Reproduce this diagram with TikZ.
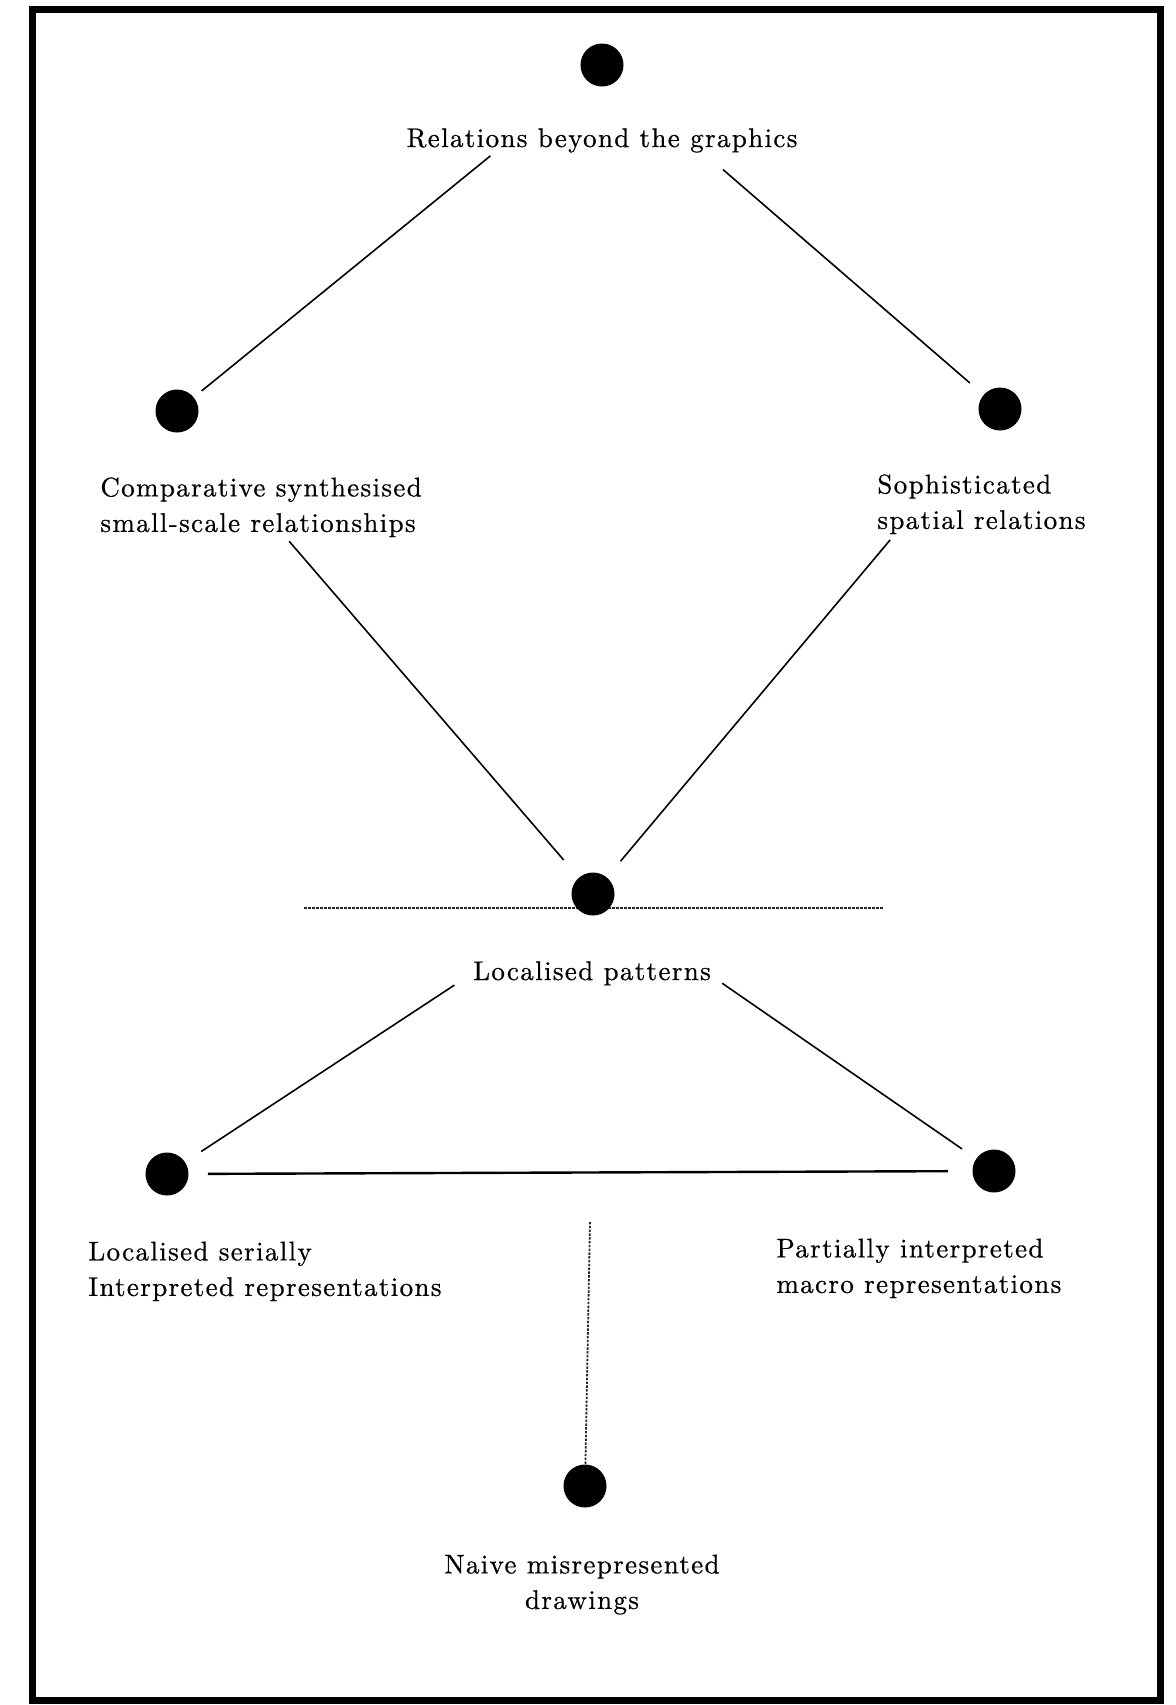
\documentclass[tikz,border=0pt]{standalone}
\usepackage{fontspec}
% Letter-spaced, slightly emboldened Latin Modern for the labels
\newfontfamily\lbfont{lmroman10-regular}[Extension=.otf, LetterSpace=5.0, FakeBold=0.6]
\newcommand\lblstrut{\rule{0pt}{10pt}}
\begin{document}
\begin{tikzpicture}[x=0.5pt,y=-0.5pt,
  dot/.style={circle,fill=black,inner sep=0pt,minimum size=21.5pt},
  link/.style={line width=0.8pt,black},
  baseline link/.style={line width=1.2pt,black},
  hguide/.style={line width=1.3pt,black!85,dash pattern=on 1.5pt off 0.5pt},
  vguide/.style={line width=0.9pt,black!85,dash pattern=on 1.2pt off 0.7pt},
  lbl/.style={font=\lbfont\fontsize{13.5}{17.75}\selectfont,inner sep=0pt,text=black}]

\useasboundingbox (0,0) rectangle (1175,1705);
\fill[white] (0,0) rectangle (1175,1705);

% outer frame
\draw[line width=3.5pt] (32,9) rectangle (1160,1700);

% free ends of the dotted guides
\coordinate (hL) at (304,908);
\coordinate (hR) at (883,908);
\coordinate (vT) at (590,1222);

% horizontal guide through the central dot
\draw[hguide] (hL) -- (hR);

% dots
\node[dot] (top)  at (602,65)   {};
\node[dot] (left) at (177,411)  {};
\node[dot] (right) at (1000,409) {};
\node[dot] (mid)  at (593,894)  {};
\node[dot] (lb)   at (167,1174) {};
\node[dot] (rb)   at (994,1171) {};
\node[dot] (bot)  at (585,1486) {};

% labels
\node[lbl,anchor=base] (tRel) at (602,147) {Relations beyond the graphics};
\node[lbl,anchor=north west,align=left] (tComp) at (100,476)
  {\lblstrut Comparative synthesised\\small-scale relationships};
\node[lbl,anchor=north west,align=left] (tSoph) at (877,473)
  {\lblstrut Sophisticated\\spatial relations};
\node[lbl,anchor=base] (tLoc) at (592,980) {Localised patterns};
\node[lbl,anchor=north west,align=left] (tSer) at (88,1240)
  {\lblstrut Localised serially\\Interpreted representations};
\node[lbl,anchor=north west,align=left] (tPart) at (776,1237)
  {\lblstrut Partially interpreted\\macro representations};
\node[lbl,anchor=north,align=center] (tNaive) at (582,1553)
  {\lblstrut Naive misrepresented\\drawings};

% connectors
\draw[link,shorten <=61pt,shorten >=5pt]    (top) -- (left);
\draw[link,shorten <=69pt,shorten >=9pt]    (top) -- (right);
\draw[link,shorten <=75pt,shorten >=11.5pt] (left) -- (mid);
\draw[link,shorten <=74.5pt,shorten >=10.5pt] (right) -- (mid);
\draw[link,shorten <=72pt,shorten >=9.5pt]  (mid) -- (lb);
\draw[link,shorten <=67.5pt,shorten >=8.5pt] (mid) -- (rb);
\draw[baseline link,shorten <=9.5pt,shorten >=12pt] (lb) -- (rb);
\draw[vguide] (vT) -- (bot);
\end{tikzpicture}
\end{document}
